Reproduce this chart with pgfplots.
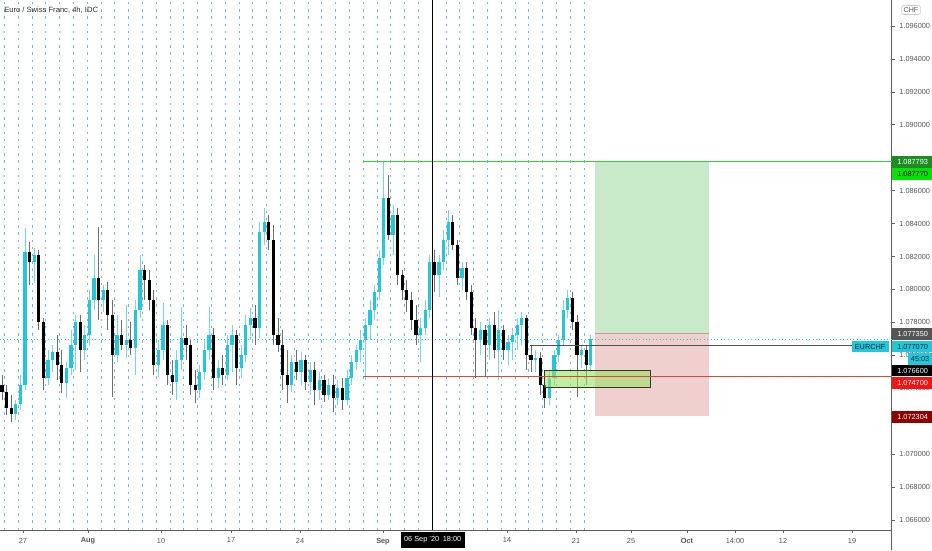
\documentclass[border=0pt]{standalone}
\usepackage{fontspec}
\setmainfont{Liberation Sans}
\usepackage{pgfplots}
\usepackage{pgfplotstable}
\pgfplotsset{compat=1.18}

\definecolor{upc}{RGB}{38,198,218}
\definecolor{upw}{RGB}{120,212,230}
\definecolor{dnw}{RGB}{110,110,110}
\definecolor{gridc}{RGB}{120,180,232}
\definecolor{tpfill}{RGB}{201,234,201}
\definecolor{slfill}{RGB}{240,207,207}
\definecolor{tpgreen}{RGB}{60,205,60}
\definecolor{slline}{RGB}{232,62,62}
\definecolor{limec}{RGB}{150,228,100}
\definecolor{axisgray}{RGB}{95,95,95}
\definecolor{drawgray}{RGB}{80,80,80}
\definecolor{ticktext}{RGB}{85,85,85}
\definecolor{lbldkgreen}{RGB}{30,140,35}
\definecolor{lblgreen}{RGB}{0,228,0}
\definecolor{lblgray}{RGB}{85,85,85}
\definecolor{lblred}{RGB}{245,20,20}
\definecolor{lbldkred}{RGB}{140,0,0}

\def\Pz{1.097579}
\def\Kp{0.00006073}

% candles: x (px), open/high/low/close as vertical pixel positions (smaller = higher price), t=1 up / 0 down
\pgfplotstableread{
x o h l c t
2 385 375 400 392 0
6.6 392 385 415 408 0
11.2 408 395 422 414 0
15.8 414 400 420 404 1
20.4 404 375 410 385 1
25 385 228 390 252 1
29.6 252 242 285 262 0
34.2 262 248 283 255 1
38.8 255 250 330 322 0
43.4 322 318 390 378 0
48 378 350 385 360 1
52.6 360 345 372 352 1
57.2 352 335 380 365 0
61.8 365 350 393 383 0
66.4 383 362 398 368 1
71 368 330 375 345 1
75.6 345 315 370 322 1
80.2 322 315 372 350 0
84.8 350 325 360 335 1
89.4 335 290 345 300 1
94 300 255 310 278 1
98.6 278 227 320 300 0
103.2 300 285 312 290 1
107.8 290 282 330 315 0
112.4 315 300 397 355 0
117 355 315 362 335 1
121.6 335 320 350 345 0
126.2 345 305 358 340 1
130.8 340 322 355 348 0
135.4 348 300 375 310 1
140 310 255 318 270 1
144.6 270 265 300 280 0
149.2 280 270 310 300 0
153.8 300 290 375 365 0
158.4 365 340 377 350 1
163 350 303 360 325 1
167.6 325 320 385 375 0
172.2 375 360 395 382 0
176.8 382 350 400 360 1
181.4 360 307 370 338 1
186 338 325 360 345 0
190.6 345 340 395 385 0
195.2 385 370 403 390 0
199.8 390 365 398 372 1
204.4 372 340 380 350 1
209 350 307 360 335 1
213.6 335 328 390 378 0
218.2 378 360 388 368 1
222.8 368 355 385 375 0
227.4 375 335 380 345 1
232 345 325 372 335 1
236.6 335 330 385 368 0
241.2 368 345 378 355 1
245.8 355 315 362 325 1
250.4 325 308 340 318 1
255 318 305 345 328 0
259.6 328 222 338 232 1
264.2 232 208 245 222 1
268.8 222 215 250 240 0
273.4 240 225 345 335 0
278 335 318 352 345 0
282.6 345 330 390 375 0
287.2 375 350 403 385 0
291.8 385 355 392 362 1
296.4 362 350 380 372 0
301 372 352 385 360 1
305.6 360 355 390 382 0
310.2 382 362 395 370 1
314.8 370 362 405 390 0
319.4 390 372 400 380 1
324 380 375 402 395 0
328.6 395 378 400 385 1
333.2 385 375 412 398 0
337.8 398 380 405 388 1
342.4 388 378 410 400 0
347 400 370 405 378 1
351.6 378 355 385 362 1
356.2 362 345 370 350 1
360.8 350 330 362 340 1
365.4 340 318 380 325 1
370 325 300 340 310 1
374.6 310 285 320 292 1
379.2 292 250 300 258 1
383.8 258 162 265 198 1
388.4 198 175 240 235 0
393 235 205 255 215 1
397.6 215 208 285 275 0
402.2 275 270 300 290 0
406.8 290 280 312 300 0
411.4 300 292 330 320 0
416 320 305 345 335 0
420.6 335 318 362 328 1
425.2 328 300 335 310 1
429.8 310 255 318 262 1
434.4 262 250 292 275 0
439 275 255 297 262 1
443.6 262 230 270 240 1
448.2 240 210 255 222 1
452.8 222 215 250 245 0
457.4 245 240 285 278 0
462 278 262 290 268 1
466.6 268 262 300 292 0
471.2 292 285 335 328 0
475.8 328 318 378 340 0
480.4 340 322 355 330 1
485 330 325 377 345 0
489.6 345 318 360 325 1
494.2 325 312 358 350 0
498.8 350 310 380 330 1
503.4 330 325 360 350 0
508 350 335 365 342 1
512.6 342 328 360 335 1
517.2 335 318 350 325 1
521.8 325 312 345 318 1
526.4 318 315 370 355 0
531 355 345 372 360 0
535.6 360 350 372 358 1
540.2 358 352 395 385 0
544.8 385 375 408 398 0
549.4 398 370 405 378 1
554 378 350 385 355 1
558.6 355 335 362 340 1
563.2 340 300 345 310 1
567.8 310 290 318 298 1
572.4 298 292 330 322 0
577 322 315 397 355 0
581.6 355 345 368 350 1
586.2 350 345 385 365 0
590.8 365 335 372 339 1
}\candles

\tikzset{lbl/.style={font=\fontsize{5.5}{6}\selectfont, inner xsep=4.2pt, inner ysep=0pt, minimum height=8.6pt, anchor=west}}

\begin{document}
\begin{tikzpicture}
\useasboundingbox (0,0) rectangle (699pt,412.5pt);
\begin{axis}[
  at={(0pt,15pt)}, anchor=south west,
  scale only axis, width=668.625pt, height=397.5pt,
  xmin=0, xmax=891.5, ymin=1.065393, ymax=1.097579,
  axis x line*=bottom, axis y line*=right,
  axis line style={draw=axisgray, line width=0.6pt},
  clip=false,
  ytick={1.066,1.068,1.070,1.072,1.074,1.076,1.078,1.080,1.082,1.084,1.086,1.090,1.092,1.094,1.096},
  scaled y ticks=false,
  yticklabel style={font=\fontsize{5.5}{6}\selectfont, text=ticktext,
    /pgf/number format/.cd, fixed, fixed zerofill, precision=6, assume math mode=true},
  xtick={23,88,161,231,300,383,507,576,631,687,735,783,852},
  xticklabels={27,\textbf{Aug},10,17,24,\textbf{Sep},14,21,25,\textbf{Oct},14:00,12,19},
  xticklabel style={font=\fontsize{5.5}{6}\selectfont, text=ticktext},
  tick align=outside, major tick length=2.4pt,
  tick style={draw=axisgray, line width=0.5pt},
  minor xtick={4.3,18.1,...,585}, xminorgrids=true, minor tick length=0pt,
  minor grid style={draw=gridc, line width=0.55pt, dash pattern=on 1.8pt off 3.6pt},
]
% take profit / stop loss zones
\addplot[draw=none, fill=tpfill] coordinates {(595,1.07735) (709,1.07735) (709,1.087793) (595,1.087793)} --cycle;
\addplot[draw=none, fill=slfill] coordinates {(595,1.072304) (709,1.072304) (709,1.07735) (595,1.07735)} --cycle;
\addplot[draw={rgb,255:red,205;green,150;blue,150}, line width=0.6pt] coordinates {(595,1.07735) (709,1.07735)};
% current price dotted line
\addplot[draw=upc, line width=0.55pt, dotted] coordinates {(0,1.07699) (891.5,1.07699)};

% wicks (low -> high)
\addplot[draw=upw, line width=0.7pt, line cap=butt,
  quiver={u=0, v={\thisrow{t}*\Kp*(\thisrow{l}-\thisrow{h})}}]
  table[x=x, y expr={\Pz-\Kp*\thisrow{l}}] {\candles};
\addplot[draw=dnw, line width=0.7pt, line cap=butt,
  quiver={u=0, v={(1-\thisrow{t})*\Kp*(\thisrow{l}-\thisrow{h})}}]
  table[x=x, y expr={\Pz-\Kp*\thisrow{l}}] {\candles};
% bodies (lower body edge -> upper body edge)
\addplot[draw=upc, line width=2.5pt, line cap=butt,
  quiver={u=0, v={\thisrow{t}*\Kp*max(abs(\thisrow{o}-\thisrow{c}),1.2)}}]
  table[x=x, y expr={\Pz-\Kp*max(\thisrow{o},\thisrow{c})}] {\candles};
\addplot[draw=black, line width=2.5pt, line cap=butt,
  quiver={u=0, v={(1-\thisrow{t})*\Kp*max(abs(\thisrow{o}-\thisrow{c}),1.2)}}]
  table[x=x, y expr={\Pz-\Kp*max(\thisrow{o},\thisrow{c})}] {\candles};

% entry zone box
\addplot[draw={rgb,255:red,45;green,60;blue,35}, line width=0.6pt, fill=limec, fill opacity=0.6] coordinates {(544,1.074076) (650,1.074076) (650,1.075109) (544,1.075109)} --cycle;

% horizontal drawings
\addplot[color=tpgreen, line width=0.8pt] coordinates {(363,1.087793) (891.5,1.087793)};
\addplot[color=slline, line width=0.75pt] coordinates {(363,1.0747) (891.5,1.0747)};
\addplot[color=drawgray, line width=0.75pt] coordinates {(530,1.0766) (857,1.0766)};
% crosshair vertical line
\addplot[color=black, line width=1.1pt] coordinates {(432.7,1.065393) (432.7,1.097579)};
\end{axis}

% axis line continues to the page bottom
\draw[axisgray, line width=0.6pt] (668.625pt,0pt) -- (668.625pt,15pt);

% title
\node[anchor=west, inner sep=0pt, font=\fontsize{5.7}{6.5}\selectfont, text={rgb,255:red,45;green,45;blue,45}] at (3pt,405pt) {Euro / Swiss Franc, 4h, IDC};
% currency box
\node[draw={rgb,255:red,205;green,205;blue,205}, fill=white, rounded corners=1pt, inner xsep=1.5pt, inner ysep=1.5pt, font=\fontsize{5.3}{6}\selectfont, text=ticktext] at (683.25pt,405pt) {CHF};

% price labels on the scale
\node[lbl, fill=lbldkgreen, text=white] at (668.625pt,291pt) {1.087793};
\node[lbl, fill=lblgreen, text=black] at (668.625pt,282pt) {1.087770};
\node[lbl, fill=lblgray, text=white] at (668.625pt,162pt) {1.077350};
\node[lbl, fill=upc, text={rgb,255:red,10;green,40;blue,60}] at (668.625pt,152.5pt) {1.077070};
\node[lbl, fill=upc, anchor=east, inner xsep=2.5pt, text={rgb,255:red,10;green,40;blue,60}] at (666.75pt,152.5pt) {EURCHF};
\node[lbl, fill=upc, inner xsep=2pt, text={rgb,255:red,10;green,40;blue,60}] at (681pt,143.25pt) {45:03};
\node[lbl, fill=black, text=white] at (668.625pt,134.5pt) {1.076600};
\node[lbl, fill=lblred, text=white] at (668.625pt,125.25pt) {1.074700};
\node[lbl, fill=lbldkred, text=white] at (668.625pt,99.75pt) {1.072304};

% crosshair date label
\node[fill=black, text=white, inner xsep=2.5pt, inner ysep=0pt, minimum height=12pt, font=\fontsize{5.5}{6}\selectfont] at (324.5pt,7.5pt) {06 Sep '20\enspace 18:00};
\end{tikzpicture}
\end{document}
